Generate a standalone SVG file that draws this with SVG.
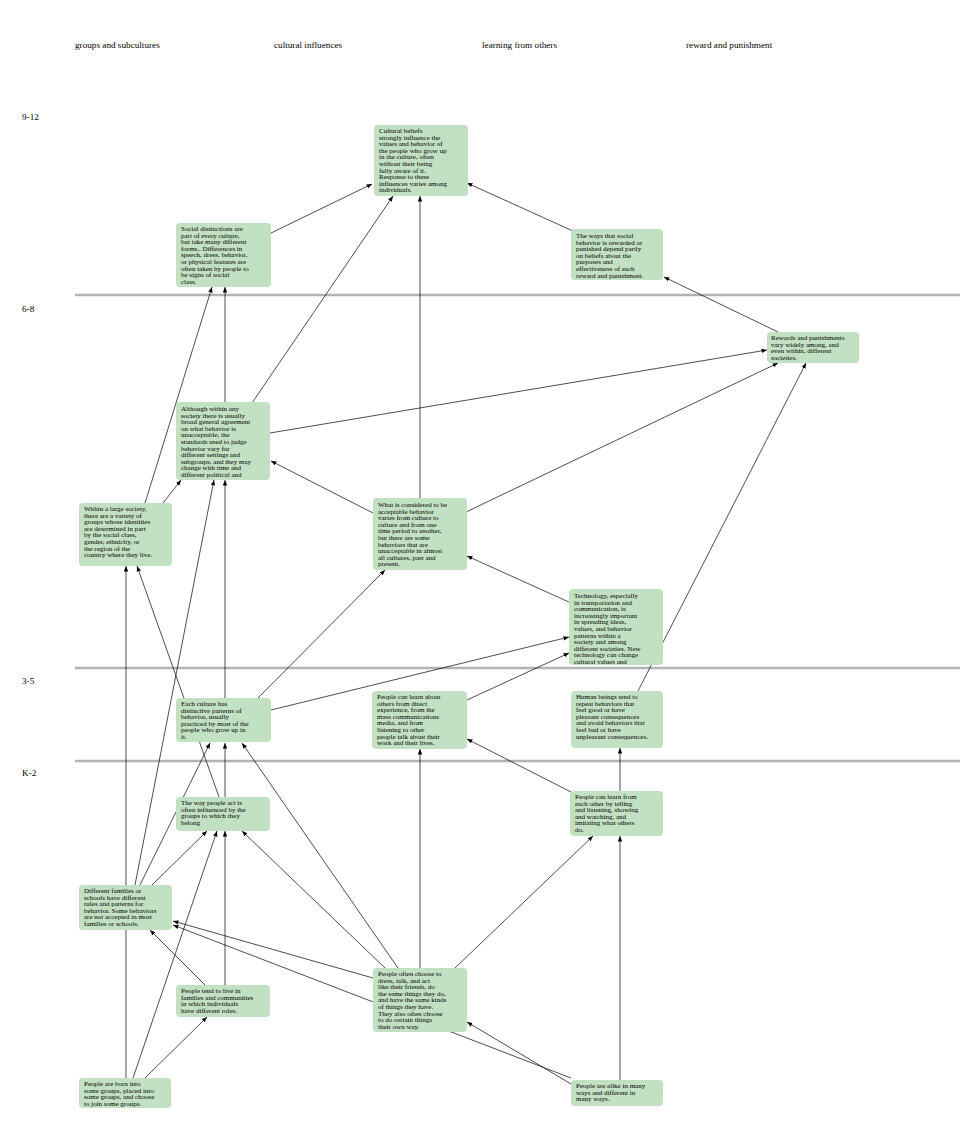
<svg xmlns="http://www.w3.org/2000/svg" width="960" height="1140" viewBox="0 0 960 1140">
<style>
.bg{fill:#ffffff}
.band{stroke:#b3b3b3;stroke-width:2.5}
.hdr{font-family:"Liberation Serif","Times New Roman",serif;font-size:9.2px;fill:#000}
.box{fill:#c2e0c2}
.t{font-family:"Liberation Serif","Times New Roman",serif;font-size:7px;fill:#000}
.e{stroke:#000;stroke-width:0.7;fill:none;marker-end:url(#ah)}
</style>
<defs>
<marker id="ah" markerUnits="userSpaceOnUse" markerWidth="6" markerHeight="5" refX="5.5" refY="2.2" orient="auto">
<path d="M0,0 L5.5,2.2 L0,4.4 z" fill="#000"/>
</marker>
</defs>
<rect class="bg" x="0" y="0" width="960" height="1140"/>
<g id="headers">
<text class="hdr" x="75" y="48">groups and subcultures</text>
<text class="hdr" x="274" y="48">cultural influences</text>
<text class="hdr" x="482" y="48">learning from others</text>
<text class="hdr" x="686" y="48">reward and punishment</text>
<text class="hdr" x="22" y="120">9-12</text>
<text class="hdr" x="22" y="312">6-8</text>
<text class="hdr" x="22" y="684">3-5</text>
<text class="hdr" x="22" y="776">K-2</text>
</g>
<g id="bands">
<line class="band" x1="75" y1="295" x2="960" y2="295"/>
<line class="band" x1="75" y1="668" x2="960" y2="668"/>
<line class="band" x1="75" y1="761" x2="960" y2="761"/>
</g>
<g id="connectors">
<line class="e" x1="271" y1="233" x2="372" y2="184"/>
<line class="e" x1="252" y1="403" x2="393" y2="196"/>
<line class="e" x1="420" y1="498" x2="420" y2="196"/>
<line class="e" x1="573" y1="231" x2="467" y2="183"/>
<line class="e" x1="225" y1="402" x2="225" y2="287"/>
<line class="e" x1="145" y1="503" x2="212" y2="287"/>
<line class="e" x1="778" y1="332" x2="664" y2="277"/>
<line class="e" x1="270" y1="433" x2="767" y2="350"/>
<line class="e" x1="466" y1="512" x2="778" y2="363"/>
<line class="e" x1="638" y1="691" x2="806" y2="363"/>
<line class="e" x1="373" y1="513" x2="271" y2="461"/>
<line class="e" x1="163" y1="503" x2="181" y2="480"/>
<line class="e" x1="225" y1="698" x2="225" y2="480"/>
<line class="e" x1="135" y1="885" x2="214" y2="480"/>
<line class="e" x1="126" y1="1078" x2="126" y2="566"/>
<line class="e" x1="219" y1="797" x2="137" y2="566"/>
<line class="e" x1="571" y1="603" x2="467" y2="556"/>
<line class="e" x1="258" y1="698" x2="385" y2="570"/>
<line class="e" x1="271" y1="710" x2="569" y2="637"/>
<line class="e" x1="467" y1="700" x2="569" y2="653"/>
<line class="e" x1="140" y1="885" x2="210" y2="743"/>
<line class="e" x1="225" y1="797" x2="225" y2="743"/>
<line class="e" x1="398" y1="968" x2="242" y2="743"/>
<line class="e" x1="420" y1="968" x2="420" y2="749"/>
<line class="e" x1="573" y1="793" x2="467" y2="739"/>
<line class="e" x1="620" y1="791" x2="620" y2="748"/>
<line class="e" x1="152" y1="885" x2="207" y2="831"/>
<line class="e" x1="133" y1="1078" x2="217" y2="831"/>
<line class="e" x1="225" y1="985" x2="225" y2="831"/>
<line class="e" x1="385" y1="968" x2="242" y2="831"/>
<line class="e" x1="455" y1="968" x2="593" y2="836"/>
<line class="e" x1="620" y1="1080" x2="620" y2="836"/>
<line class="e" x1="205" y1="985" x2="150" y2="930"/>
<line class="e" x1="373" y1="978" x2="173" y2="921"/>
<line class="e" x1="571" y1="1078" x2="173" y2="925"/>
<line class="e" x1="571" y1="1084" x2="467" y2="1022"/>
<line class="e" x1="145" y1="1078" x2="207" y2="1017"/>
</g>
<g id="n1"><rect class="box" x="374" y="125" width="94" height="71" rx="4"/><text class="t" x="379" y="133"><tspan x="379">Cultural beliefs</tspan><tspan x="379" dy="6.6">strongly influence the</tspan><tspan x="379" dy="6.6">values and behavior of</tspan><tspan x="379" dy="6.6">the people who grow up</tspan><tspan x="379" dy="6.6">in the culture, often</tspan><tspan x="379" dy="6.6">without their being</tspan><tspan x="379" dy="6.6">fully aware of it.</tspan><tspan x="379" dy="6.6">Response to these</tspan><tspan x="379" dy="6.6">influences varies among</tspan><tspan x="379" dy="6.6">individuals.</tspan></text></g>
<g id="n2"><rect class="box" x="176" y="223" width="95" height="64" rx="4"/><text class="t" x="181" y="231"><tspan x="181">Social distinctions are</tspan><tspan x="181" dy="6.6">part of every culture,</tspan><tspan x="181" dy="6.6">but take many different</tspan><tspan x="181" dy="6.6">forms.. Differences in</tspan><tspan x="181" dy="6.6">speech, dress, behavior,</tspan><tspan x="181" dy="6.6">or physical features are</tspan><tspan x="181" dy="6.6">often taken by people to</tspan><tspan x="181" dy="6.6">be signs of social</tspan><tspan x="181" dy="6.6">class.</tspan></text></g>
<g id="n3"><rect class="box" x="571" y="229" width="92" height="51" rx="4"/><text class="t" x="576" y="238"><tspan x="576">The ways that social</tspan><tspan x="576" dy="6.6">behavior is rewarded or</tspan><tspan x="576" dy="6.6">punished depend partly</tspan><tspan x="576" dy="6.6">on beliefs about the</tspan><tspan x="576" dy="6.6">purposes and</tspan><tspan x="576" dy="6.6">effectiveness of each</tspan><tspan x="576" dy="6.6">reward and punishment.</tspan></text></g>
<g id="n4"><rect class="box" x="767" y="332" width="92" height="31" rx="4"/><text class="t" x="771" y="340"><tspan x="771">Rewards and punishments</tspan><tspan x="771" dy="6.6">vary widely among, and</tspan><tspan x="771" dy="6.6">even within, different</tspan><tspan x="771" dy="6.6">societies.</tspan></text></g>
<g id="n5"><rect class="box" x="176" y="402" width="94" height="78" rx="4"/><text class="t" x="181" y="411"><tspan x="181">Although within any</tspan><tspan x="181" dy="6.6">society there is usually</tspan><tspan x="181" dy="6.6">broad general agreement</tspan><tspan x="181" dy="6.6">on what behavior is</tspan><tspan x="181" dy="6.6">unacceptable, the</tspan><tspan x="181" dy="6.6">standards used to judge</tspan><tspan x="181" dy="6.6">behavior vary for</tspan><tspan x="181" dy="6.6">different settings and</tspan><tspan x="181" dy="6.6">subgroups, and they may</tspan><tspan x="181" dy="6.6">change with time and</tspan><tspan x="181" dy="6.6">different political and</tspan></text></g>
<g id="n6"><rect class="box" x="79" y="503" width="93" height="63" rx="4"/><text class="t" x="84" y="511"><tspan x="84">Within a large society,</tspan><tspan x="84" dy="6.6">there are a variety of</tspan><tspan x="84" dy="6.6">groups whose identities</tspan><tspan x="84" dy="6.6">are determined in part</tspan><tspan x="84" dy="6.6">by the social class,</tspan><tspan x="84" dy="6.6">gender, ethnicity, or</tspan><tspan x="84" dy="6.6">the region of the</tspan><tspan x="84" dy="6.6">country where they live.</tspan></text></g>
<g id="n7"><rect class="box" x="373" y="498" width="94" height="72" rx="4"/><text class="t" x="378" y="507"><tspan x="378">What is considered to be</tspan><tspan x="378" dy="6.6">acceptable behavior</tspan><tspan x="378" dy="6.6">varies from culture to</tspan><tspan x="378" dy="6.6">culture and from one</tspan><tspan x="378" dy="6.6">time period to another,</tspan><tspan x="378" dy="6.6">but there are some</tspan><tspan x="378" dy="6.6">behaviors that are</tspan><tspan x="378" dy="6.6">unacceptable in almost</tspan><tspan x="378" dy="6.6">all cultures, past and</tspan><tspan x="378" dy="6.6">present.</tspan></text></g>
<g id="n8"><rect class="box" x="569" y="589" width="94" height="76" rx="4"/><text class="t" x="574" y="598"><tspan x="574">Technology, especially</tspan><tspan x="574" dy="6.6">in transportation and</tspan><tspan x="574" dy="6.6">communication, is</tspan><tspan x="574" dy="6.6">increasingly important</tspan><tspan x="574" dy="6.6">in spreading ideas,</tspan><tspan x="574" dy="6.6">values, and behavior</tspan><tspan x="574" dy="6.6">patterns within a</tspan><tspan x="574" dy="6.6">society and among</tspan><tspan x="574" dy="6.6">different societies. New</tspan><tspan x="574" dy="6.6">technology can change</tspan><tspan x="574" dy="6.6">cultural values and</tspan></text></g>
<g id="n9"><rect class="box" x="176" y="698" width="95" height="44" rx="4"/><text class="t" x="181" y="706"><tspan x="181">Each culture has</tspan><tspan x="181" dy="6.6">distinctive patterns of</tspan><tspan x="181" dy="6.6">behavior, usually</tspan><tspan x="181" dy="6.6">practiced by most of the</tspan><tspan x="181" dy="6.6">people who grow up in</tspan><tspan x="181" dy="6.6">it.</tspan></text></g>
<g id="n10"><rect class="box" x="372" y="691" width="95" height="58" rx="4"/><text class="t" x="377" y="699"><tspan x="377">People can learn about</tspan><tspan x="377" dy="6.6">others from direct</tspan><tspan x="377" dy="6.6">experience, from the</tspan><tspan x="377" dy="6.6">mass communications</tspan><tspan x="377" dy="6.6">media, and from</tspan><tspan x="377" dy="6.6">listening to other</tspan><tspan x="377" dy="6.6">people talk about their</tspan><tspan x="377" dy="6.6">work and their lives.</tspan></text></g>
<g id="n11"><rect class="box" x="571" y="691" width="92" height="57" rx="4"/><text class="t" x="576" y="699"><tspan x="576">Human beings tend to</tspan><tspan x="576" dy="6.6">repeat behaviors that</tspan><tspan x="576" dy="6.6">feel good or have</tspan><tspan x="576" dy="6.6">pleasant consequences</tspan><tspan x="576" dy="6.6">and avoid behaviors that</tspan><tspan x="576" dy="6.6">feel bad or have</tspan><tspan x="576" dy="6.6">unpleasant consequences.</tspan></text></g>
<g id="n12"><rect class="box" x="176" y="797" width="94" height="34" rx="4"/><text class="t" x="181" y="805"><tspan x="181">The way people act is</tspan><tspan x="181" dy="6.6">often influenced by the</tspan><tspan x="181" dy="6.6">groups to which they</tspan><tspan x="181" dy="6.6">belong</tspan></text></g>
<g id="n13"><rect class="box" x="570" y="791" width="93" height="45" rx="4"/><text class="t" x="575" y="799"><tspan x="575">People can learn from</tspan><tspan x="575" dy="6.6">each other by telling</tspan><tspan x="575" dy="6.6">and listening, showing</tspan><tspan x="575" dy="6.6">and watching, and</tspan><tspan x="575" dy="6.6">imitating what others</tspan><tspan x="575" dy="6.6">do.</tspan></text></g>
<g id="n14"><rect class="box" x="79" y="885" width="93" height="45" rx="4"/><text class="t" x="84" y="893"><tspan x="84">Different families or</tspan><tspan x="84" dy="6.6">schools have different</tspan><tspan x="84" dy="6.6">rules and patterns for</tspan><tspan x="84" dy="6.6">behavior. Some behaviors</tspan><tspan x="84" dy="6.6">are not accepted in most</tspan><tspan x="84" dy="6.6">families or schools.</tspan></text></g>
<g id="n15"><rect class="box" x="176" y="985" width="94" height="32" rx="4"/><text class="t" x="181" y="993"><tspan x="181">People tend to live in</tspan><tspan x="181" dy="6.6">families and communities</tspan><tspan x="181" dy="6.6">in which individuals</tspan><tspan x="181" dy="6.6">have different roles.</tspan></text></g>
<g id="n16"><rect class="box" x="373" y="968" width="94" height="64" rx="4"/><text class="t" x="378" y="976"><tspan x="378">People often choose to</tspan><tspan x="378" dy="6.6">dress, talk, and act</tspan><tspan x="378" dy="6.6">like their friends, do</tspan><tspan x="378" dy="6.6">the same things they do,</tspan><tspan x="378" dy="6.6">and have the same kinds</tspan><tspan x="378" dy="6.6">of things they have.</tspan><tspan x="378" dy="6.6">They also often choose</tspan><tspan x="378" dy="6.6">to do certain things</tspan><tspan x="378" dy="6.6">their own way.</tspan></text></g>
<g id="n17"><rect class="box" x="79" y="1078" width="92" height="30" rx="4"/><text class="t" x="84" y="1086"><tspan x="84">People are born into</tspan><tspan x="84" dy="6.6">some groups, placed into</tspan><tspan x="84" dy="6.6">some groups, and choose</tspan><tspan x="84" dy="6.6">to join some groups.</tspan></text></g>
<g id="n18"><rect class="box" x="571" y="1080" width="92" height="26" rx="4"/><text class="t" x="576" y="1088"><tspan x="576">People are alike in many</tspan><tspan x="576" dy="6.6">ways and different in</tspan><tspan x="576" dy="6.6">many ways.</tspan></text></g>
</svg>
